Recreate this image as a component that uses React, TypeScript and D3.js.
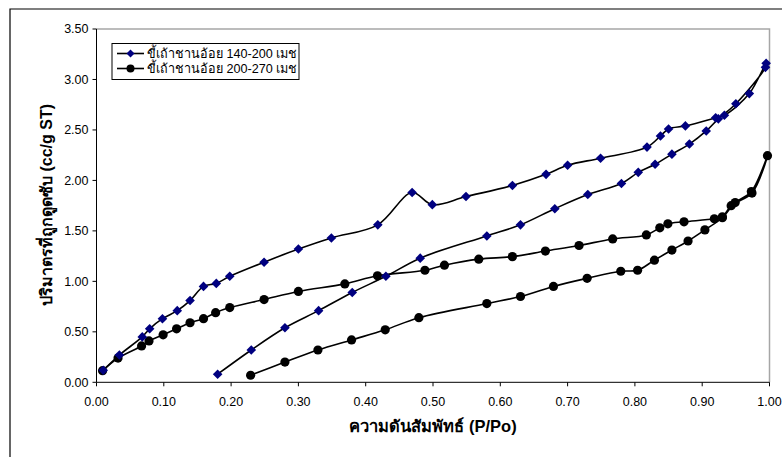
import React from "react";
import * as d3 from "d3";

const seriesNames = ["ขี้เถ้าชานอ้อย 140-200 เมช", "ขี้เถ้าชานอ้อย 200-270 เมช"];

const p1 = [0.18, 0.23, 0.28, 0.33, 0.38, 0.43, 0.481, 0.58, 0.63, 0.681, 0.73, 0.78, 0.805, 0.83, 0.855, 0.881, 0.906, 0.924, 0.95, 0.994,
  0.995, 0.97, 0.933, 0.92, 0.875, 0.85, 0.838, 0.818, 0.749, 0.70, 0.668, 0.618, 0.549, 0.499, 0.469, 0.418, 0.349, 0.30, 0.249, 0.198,
  0.178, 0.159, 0.139, 0.12, 0.098, 0.079, 0.068, 0.034, 0.01];
const v1 = [0.08, 0.32, 0.54, 0.71, 0.89, 1.05, 1.23, 1.45, 1.56, 1.72, 1.86, 1.97, 2.08, 2.16, 2.26, 2.36, 2.49, 2.61, 2.76, 3.12,
  3.16, 2.86, 2.645, 2.62, 2.54, 2.51, 2.44, 2.33, 2.22, 2.15, 2.06, 1.95, 1.84, 1.76, 1.88, 1.56, 1.43, 1.32, 1.19, 1.05,
  0.98, 0.95, 0.81, 0.71, 0.63, 0.53, 0.45, 0.27, 0.12];

const p2 = [0.229, 0.28, 0.329, 0.379, 0.429, 0.479, 0.58, 0.63, 0.679, 0.729, 0.779, 0.804, 0.829, 0.855, 0.879, 0.904, 0.93, 0.949, 0.973, 0.997,
  0.974, 0.943, 0.93, 0.918, 0.873, 0.849, 0.837, 0.817, 0.767, 0.717, 0.667, 0.618, 0.568, 0.517, 0.488, 0.4175, 0.369, 0.30, 0.249, 0.198,
  0.177, 0.159, 0.139, 0.119, 0.099, 0.078, 0.067, 0.032, 0.009];
const v2 = [0.07, 0.20, 0.32, 0.42, 0.52, 0.64, 0.78, 0.85, 0.95, 1.03, 1.10, 1.11, 1.21, 1.31, 1.40, 1.51, 1.63, 1.78, 1.89, 2.245,
  1.875, 1.75, 1.64, 1.62, 1.59, 1.57, 1.53, 1.46, 1.42, 1.355, 1.30, 1.245, 1.22, 1.16, 1.11, 1.055, 0.975, 0.90, 0.82, 0.74,
  0.69, 0.63, 0.59, 0.53, 0.47, 0.41, 0.36, 0.24, 0.115];

const xTicks = [0, 0.1, 0.2, 0.3, 0.4, 0.5, 0.6, 0.7, 0.8, 0.9, 1.0];
const yTicks = [0, 0.5, 1.0, 1.5, 2.0, 2.5, 3.0, 3.5];

const xTitle = "ความดันสัมพัทธ์ (P/Po)";
const yTitle = "ปริมาตรที่ถูกดูดซับ (cc/g ST)";

const FONT = "'Liberation Sans', Arial, 'Noto Sans', sans-serif";

export default function App() {
  const W = 782, H = 457;
  const x = d3.scaleLinear().domain([0, 1]).range([96.5, 769.5]);
  const y = d3.scaleLinear().domain([0, 3.5]).range([382.3, 29]);
  const line = d3.line<[number, number]>()
    .x((d) => x(d[0]))
    .y((d) => y(d[1]))
    .curve(d3.curveCatmullRom.alpha(0.5));
  const d1: [number, number][] = p1.map((p, i) => [p, v1[i]]);
  const d2: [number, number][] = p2.map((p, i) => [p, v2[i]]);
  const diamond = (cx: number, cy: number, r: number) =>
    `M${cx},${cy - r}L${cx + r},${cy}L${cx},${cy + r}L${cx - r},${cy}Z`;

  return (
    <svg width={W} height={H} style={{ position: "absolute", left: 0, top: 0, background: "#fff" }} fontFamily={FONT}>
      <rect x={0} y={0} width={W} height={H} fill="#fff" />
      {/* outer chart frame */}
      <path d={`M10,${H + 2}V9H${W + 2}`} fill="none" stroke="#000" strokeWidth={1.2} />
      {/* plot area border (gray) */}
      <path d={`M${x(0)},${y(3.5)}H${x(1)}V${y(0)}`} fill="none" stroke="#a6a6a6" strokeWidth={1.5} />
      {/* axes */}
      <line x1={x(0)} x2={x(0)} y1={y(0)} y2={y(3.5)} stroke="#000" strokeWidth={1} />
      <line x1={x(0)} x2={x(1)} y1={y(0)} y2={y(0)} stroke="#000" strokeWidth={1} />
      {yTicks.map((t) => (
        <g key={"y" + t}>
          <line x1={x(0) - 4} x2={x(0)} y1={y(t)} y2={y(t)} stroke="#000" />
          <text x={x(0) - 8} y={y(t)} dy="0.35em" textAnchor="end" fontSize={12.5} fill="#000">
            {t.toFixed(2)}
          </text>
        </g>
      ))}
      {xTicks.map((t) => (
        <g key={"x" + t}>
          <line x1={x(t)} x2={x(t)} y1={y(0)} y2={y(0) + 4} stroke="#000" />
          <text x={x(t)} y={y(0) + 24} textAnchor="middle" fontSize={12.5} fill="#000">
            {t.toFixed(2)}
          </text>
        </g>
      ))}
      <text x={433} y={432} textAnchor="middle" fontSize={16.5} fontWeight="bold" fill="#000">{xTitle}</text>
      <text transform={`translate(52,205) rotate(-90)`} textAnchor="middle" fontSize={16} fontWeight="bold" fill="#000">{yTitle}</text>

      {/* lines */}
      <path d={line(d2) || ""} fill="none" stroke="#000" strokeWidth={1.6} />
      <path d={line(d1) || ""} fill="none" stroke="#000" strokeWidth={1.6} />
      {/* markers */}
      {d2.map((d, i) => (
        <circle key={"c" + i} cx={x(d[0])} cy={y(d[1])} r={4.6} fill="#000" />
      ))}
      {d1.map((d, i) => (
        <path key={"d" + i} d={diamond(x(d[0]), y(d[1]), 4.8)} fill="#000080" />
      ))}

      {/* legend */}
      <rect x={112} y={43.5} width={187} height={36} fill="#fff" stroke="#000" strokeWidth={1} />
      <line x1={117} x2={144} y1={53.5} y2={53.5} stroke="#000" strokeWidth={1.6} />
      <path d={diamond(130.5, 53.5, 4)} fill="#000080" />
      <text x={147} y={53.5} dy="0.35em" fontSize={12.6} fill="#000">{seriesNames[0]}</text>
      <line x1={117} x2={144} y1={68.5} y2={68.5} stroke="#000" strokeWidth={1.6} />
      <circle cx={130.5} cy={68.5} r={4} fill="#000" />
      <text x={147} y={68.5} dy="0.35em" fontSize={12.6} fill="#000">{seriesNames[1]}</text>
    </svg>
  );
}
